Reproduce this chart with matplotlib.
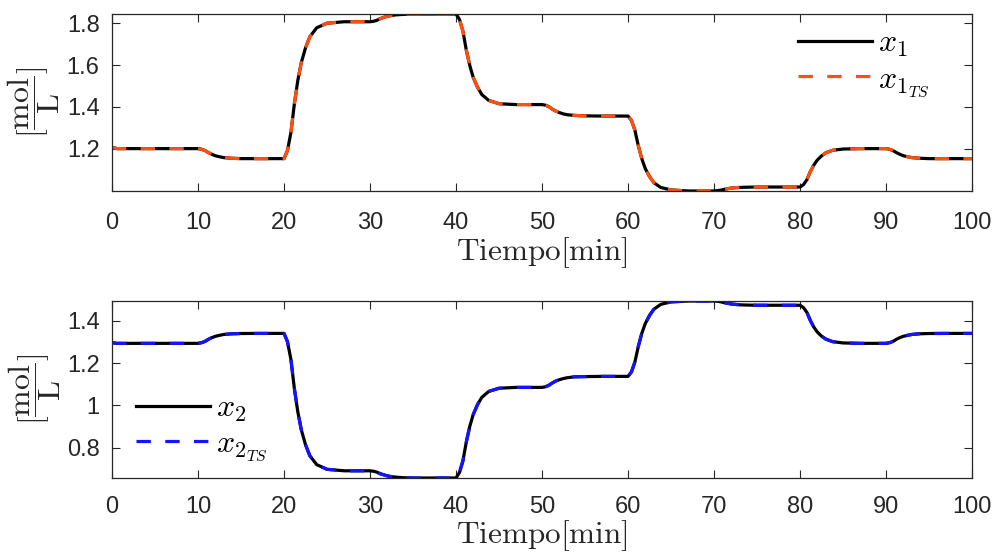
import matplotlib as mpl
mpl.use("Agg")
import matplotlib.pyplot as plt
from matplotlib.ticker import FormatStrFormatter

plt.rcParams['font.family'] = ['Liberation Sans', 'DejaVu Sans']
plt.rcParams['mathtext.fontset'] = 'cm'

# sample times [min] (denser around each set-point change)
t = [0, 0.6,
     10, 10.4, 10.8, 11.2, 11.6, 12.0, 12.5, 13.0, 13.8, 15.0, 17.0,
     20, 20.4, 20.8, 21.2, 21.6, 22.0, 22.5, 23.0, 23.8, 25.0, 27.0,
     30, 30.4, 30.8, 31.2, 31.6, 32.0, 32.5, 33.0, 33.8, 35.0, 37.0,
     40, 40.4, 40.8, 41.2, 41.6, 42.0, 42.5, 43.0, 43.8, 45.0, 47.0,
     50, 50.4, 50.8, 51.2, 51.6, 52.0, 52.5, 53.0, 53.8, 55.0, 57.0,
     60, 60.4, 60.8, 61.2, 61.6, 62.0, 62.5, 63.0, 63.8, 65.0, 67.0,
     70, 70.4, 70.8, 71.2, 71.6, 72.0, 72.5, 73.0, 73.8, 75.0, 77.0,
     80, 80.4, 80.8, 81.2, 81.6, 82.0, 82.5, 83.0, 83.8, 85.0, 87.0,
     90, 90.4, 90.8, 91.2, 91.6, 92.0, 92.5, 93.0, 93.8, 95.0, 97.0,
     100]

x1 = [1.206, 1.200,
      1.200, 1.197, 1.191, 1.181, 1.173, 1.166, 1.161, 1.157, 1.154, 1.152, 1.152,
      1.152, 1.191, 1.277, 1.414, 1.526, 1.611, 1.683, 1.736, 1.779, 1.801, 1.808,
      1.808, 1.810, 1.815, 1.823, 1.829, 1.834, 1.838, 1.841, 1.843, 1.845, 1.845,
      1.845, 1.819, 1.763, 1.671, 1.598, 1.541, 1.494, 1.459, 1.431, 1.415, 1.411,
      1.411, 1.408, 1.401, 1.389, 1.380, 1.373, 1.366, 1.362, 1.359, 1.357, 1.356,
      1.356, 1.335, 1.288, 1.213, 1.152, 1.105, 1.066, 1.037, 1.014, 1.002, 0.997,
      0.997, 0.999, 1.001, 1.005, 1.008, 1.011, 1.013, 1.014, 1.015, 1.016, 1.016,
      1.016, 1.027, 1.051, 1.090, 1.121, 1.145, 1.165, 1.180, 1.192, 1.198, 1.200,
      1.200, 1.197, 1.191, 1.181, 1.173, 1.166, 1.161, 1.157, 1.154, 1.152, 1.152,
      1.152]
x1_ts = list(x1)

x2 = [1.296, 1.293,
      1.293, 1.296, 1.302, 1.312, 1.320, 1.326, 1.331, 1.335, 1.338, 1.3395, 1.340,
      1.340, 1.301, 1.217, 1.080, 0.970, 0.886, 0.814, 0.762, 0.720, 0.698, 0.691,
      0.691, 0.689, 0.6845, 0.677, 0.672, 0.667, 0.6635, 0.661, 0.6585, 0.657, 0.657,
      0.657, 0.683, 0.738, 0.828, 0.901, 0.957, 1.004, 1.038, 1.066, 1.081, 1.085,
      1.085, 1.088, 1.095, 1.106, 1.115, 1.121, 1.127, 1.131, 1.135, 1.136, 1.137,
      1.137, 1.158, 1.205, 1.279, 1.340, 1.386, 1.425, 1.454, 1.477, 1.489, 1.493,
      1.493, 1.492, 1.489, 1.485, 1.482, 1.479, 1.477, 1.475, 1.474, 1.473, 1.473,
      1.473, 1.462, 1.439, 1.401, 1.370, 1.347, 1.327, 1.313, 1.301, 1.295, 1.293,
      1.293, 1.296, 1.302, 1.312, 1.320, 1.326, 1.331, 1.335, 1.338, 1.3395, 1.340,
      1.340]
x2_ts = list(x2)

x_ticks = list(range(0, 101, 10))
y1_ticks = [1.2, 1.4, 1.6, 1.8]
y2_ticks = [0.8, 1.0, 1.2, 1.4]

axcol = '#262626'
fig = plt.figure(figsize=(9.95, 5.56), dpi=100)
ax1 = fig.add_axes([0.1126, 0.6565, 0.8643, 0.3183])
ax2 = fig.add_axes([0.1126, 0.1403, 0.8643, 0.3183])

def style(ax, yt, tpad, xpad):
    ax.set_xlim(0, 100)
    ax.set_xticks(x_ticks)
    ax.set_yticks(yt)
    ax.yaxis.set_major_formatter(FormatStrFormatter('%g'))
    ax.tick_params(direction='in', length=6, width=0.8, colors=axcol,
                   labelsize=17, top=True, right=True)
    ax.tick_params(axis='x', pad=tpad)
    ax.tick_params(axis='y', pad=9)
    for s in ax.spines.values():
        s.set_color(axcol)
        s.set_linewidth(0.9)
    ax.set_xlabel(r'$\mathrm{Tiempo[min]}$', fontsize=22.5, color=axcol, labelpad=xpad)
    ax.set_ylabel(r'$[\dfrac{\mathrm{mol}}{\mathrm{L}}]$', fontsize=23, color=axcol, labelpad=3)

leg_kw = dict(frameon=False, fontsize=23, handlelength=2.3, handletextpad=0.2,
              labelspacing=0.15, borderpad=0, borderaxespad=0)

ax1.plot(t, x1, color='black', lw=2.3, label=r'$x_1$')
ax1.plot(t, x1_ts, color='#FF5010', lw=2.3, ls=(0, (4.5, 4.5)), label=r'$x_{1_{TS}}$')
ax1.set_ylim(min(x1), max(x1))
style(ax1, y1_ticks, 15, 1)
ax1.legend(loc='upper left', bbox_to_anchor=(0.798, 0.915), **leg_kw)

ax2.plot(t, x2, color='black', lw=2.3, label=r'$x_2$')
ax2.plot(t, x2_ts, color='#1414FF', lw=2.3, ls=(0, (4.5, 4.5)), label=r'$x_{2_{TS}}$')
ax2.set_ylim(min(x2), max(x2))
style(ax2, y2_ticks, 13, 0)
ax2.legend(loc='center left', bbox_to_anchor=(0.028, 0.28), **leg_kw)

fig.savefig('out.png', dpi=100)
